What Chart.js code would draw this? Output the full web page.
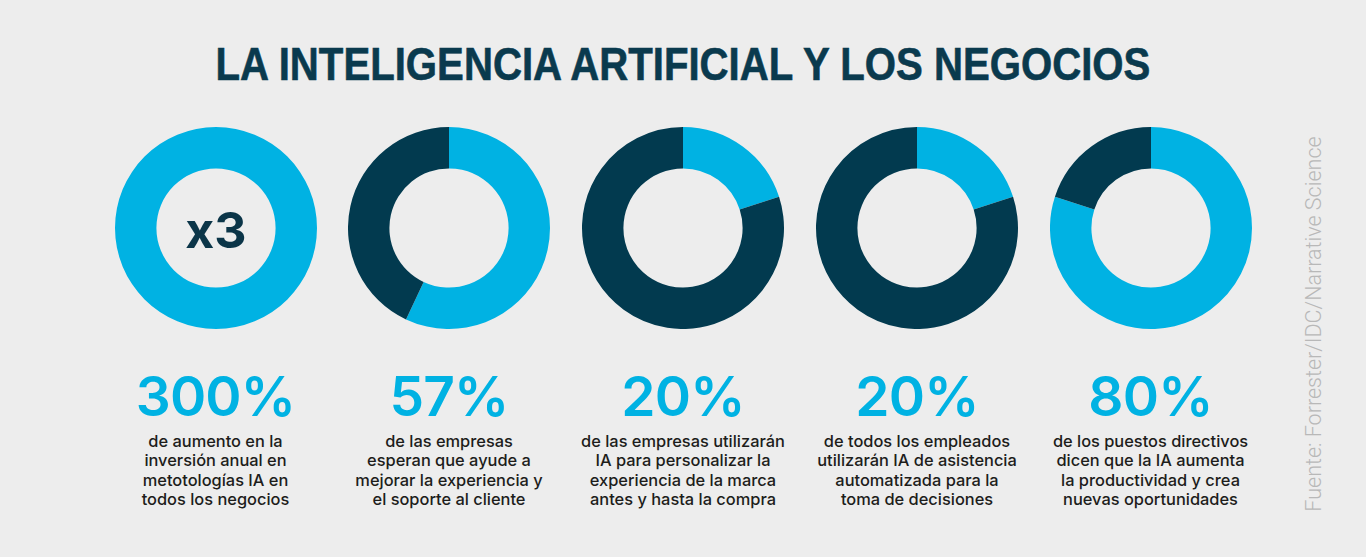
<!DOCTYPE html>
<html>
<head>
<meta charset="utf-8">
<script src="https://cdn.jsdelivr.net/npm/chart.js@4/dist/chart.umd.min.js"></script>
<style>
  html, body { margin: 0; padding: 0; }
  body { width: 1366px; height: 557px; background: #ededed; position: relative; overflow: hidden; font-family: "Inter", "Noto Sans", sans-serif; }
  #title { position: absolute; left: 683px; top: 41px; font-family: "Liberation Sans Narrow", "Liberation Sans", Arial, sans-serif; font-weight: 700; font-size: 46px; line-height: 46px; color: #0a3a4e; white-space: nowrap; transform-origin: 0 0; -webkit-text-stroke: 0.6px #0a3a4e; }
  .ring { position: absolute; top: 127px; width: 202px; height: 202px; }
  .pct { position: absolute; top: 369px; width: 234px; margin-left: -117px; text-align: center; font-weight: 600; font-size: 55px; line-height: 55px; color: #00b2e3; letter-spacing: -0.8px; }
  .desc { position: absolute; top: 431.5px; width: 240px; margin-left: -120px; text-align: center; font-weight: 500; font-size: 16.4px; line-height: 19.5px; color: #1d1d1b; }
  #mult { position: absolute; left: 216px; top: 205px; transform: translateX(-50%); font-weight: 700; font-size: 50px; line-height: 50px; color: #0b3548; white-space: nowrap; }
  #source { position: absolute; left: 1313px; top: 324px; transform: translate(-50%, -50%) rotate(-90deg); font-family: "Roboto", "Liberation Sans", sans-serif; font-weight: 300; font-size: 21.5px; color: #b8b8b8; white-space: nowrap; }
</style>
</head>
<body>
<div id="title"></div>
<div id="mult"></div>
<div id="source"></div>
<script>
// ---- data ----
const titleText = "LA INTELIGENCIA ARTIFICIAL Y LOS NEGOCIOS";
const statLabels = ["300%", "57%", "20%", "20%", "80%"];
const ringHighlighted = [100, 57, 20, 20, 80];
const ringRemainder = [0, 43, 80, 80, 20];
const descriptions = [
  ["de aumento en la", "inversión anual en", "metotologías IA en", "todos los negocios"],
  ["de las empresas", "esperan que ayude a", "mejorar la experiencia y", "el soporte al cliente"],
  ["de las empresas utilizarán", "IA para personalizar la", "experiencia de la marca", "antes y hasta la compra"],
  ["de todos los empleados", "utilizarán IA de asistencia", "automatizada para la", "toma de decisiones"],
  ["de los puestos directivos", "dicen que la IA aumenta", "la productividad y crea", "nuevas oportunidades"]
];
const centerText = "x3";
const sourceText = "Fuente: Forrester/IDC/Narrative Science";

// ---- styles ----
const CYAN = "#00b2e3";
const NAVY = "#023a4f";
const centersX = [215.5, 449, 683, 917, 1150.5];

// title, fitted to width
const t = document.getElementById("title");
t.textContent = titleText;
const w = t.offsetWidth;
const targetW = 935;
t.style.transform = "translateX(" + (-targetW / 2) + "px) scaleX(" + (targetW / w) + ")";

document.getElementById("mult").textContent = centerText;
document.getElementById("source").textContent = sourceText;

statLabels.forEach((lab, i) => {
  const box = document.createElement("div");
  box.className = "ring";
  box.style.left = (centersX[i] - 101) + "px";
  const cv = document.createElement("canvas");
  box.appendChild(cv);
  document.body.appendChild(box);

  new Chart(cv, {
    type: "doughnut",
    data: {
      labels: ["highlight", "rest"],
      datasets: [{
        data: [ringHighlighted[i], ringRemainder[i]],
        backgroundColor: [CYAN, NAVY],
        borderWidth: 0
      }]
    },
    options: {
      responsive: true,
      maintainAspectRatio: false,
      animation: false,
      cutout: "59%",
      layout: { padding: 0 },
      plugins: { legend: { display: false }, tooltip: { enabled: false } },
      events: []
    }
  });

  const p = document.createElement("div");
  p.className = "pct";
  p.style.left = centersX[i] + "px";
  p.textContent = lab;
  document.body.appendChild(p);

  const d = document.createElement("div");
  d.className = "desc";
  d.style.left = centersX[i] + "px";
  d.innerHTML = descriptions[i].join("<br>");
  document.body.appendChild(d);
});
</script>
</body>
</html>
